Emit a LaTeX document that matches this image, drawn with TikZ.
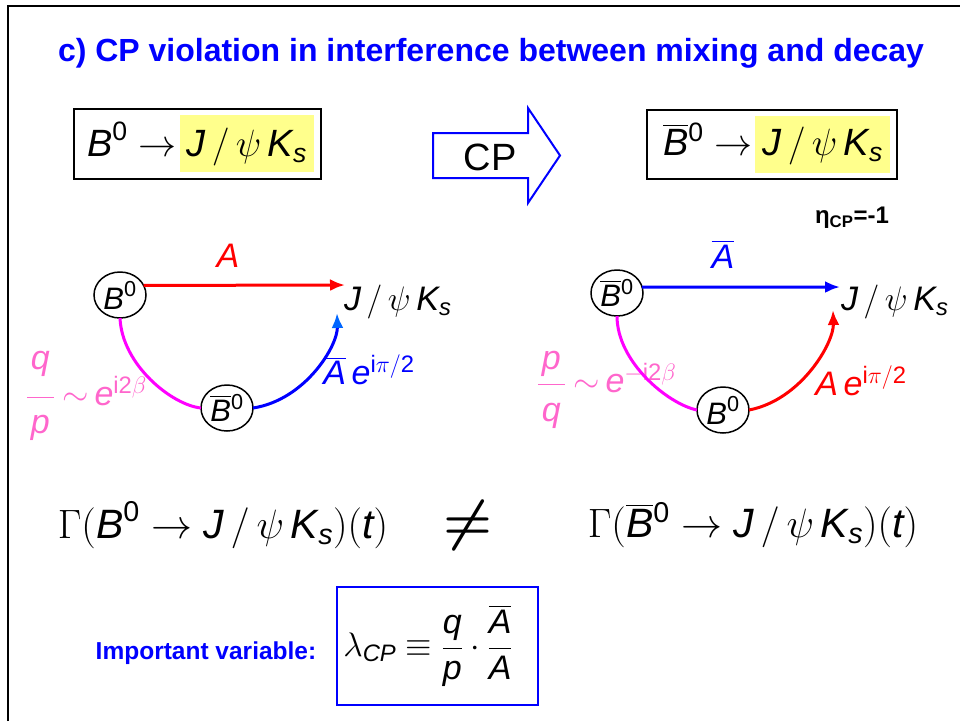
\RequirePackage{fix-cm}
\documentclass[tikz,border=0pt]{standalone}
\usepackage{amsmath}
\usepackage{fontspec}
\setmainfont{Liberation Sans}
\usetikzlibrary{shapes.geometric,arrows.meta}
\definecolor{myblue}{RGB}{0,0,255}
\definecolor{tipblue}{RGB}{0,102,255}
\definecolor{myred}{RGB}{255,0,0}
\definecolor{mymag}{RGB}{255,0,255}
\definecolor{mypink}{RGB}{255,102,204}
\definecolor{hl}{RGB}{255,255,140}
\newcommand{\Bz}{\textit{B}^{\text{0}}}
\newcommand{\Bbz}{\overline{\textit{B}}{}^{\text{0}}}
\newcommand{\Jpsi}{\textit{J}\mkern3mu/\mkern3mu\psi\,\textit{K}_{\textit{s}}}
\newcommand{\Abar}{\overline{\textit{A}}}
\newcommand{\dn}[1]{\rule[-#1]{0pt}{1pt}}
\newcommand{\upr}[1]{\rule{0pt}{#1}}
\newcommand{\tsim}{\mkern4mu{\sim}\mkern3mu}
\begin{document}
\begin{tikzpicture}[x=1pt,y=-1pt,
  every node/.style={inner sep=0pt, outer sep=0pt},
  titlefont/.style={font=\fontsize{32}{36}\selectfont\bfseries, text=myblue},
  eqf/.style={font=\fontsize{38}{42}\selectfont},
  ratef/.style={font=\fontsize{41}{44}\selectfont},
  dgf/.style={font=\fontsize{34}{38}\selectfont},
  bcirc/.style={draw, ellipse, line width=1.5pt, minimum width=52pt, minimum height=46pt, font=\fontsize{31}{34}\selectfont},
  eqframe/.style={draw, line width=1.5pt},
  hlbox/.style={fill=hl},
  arr/.style={line width=3pt, -{Latex[length=15pt,width=12pt]}},
  mixline/.style={line width=3pt, mymag},
]
\useasboundingbox (0,0) rectangle (960,721);
% frame of the slide
\draw[line width=2.5pt] (8,721) -- (8,6) -- (960,6);

% title
\node[titlefont] (title) at (491,53) {c) CP violation in interference between mixing and decay};

% top left box
\node[hlbox, minimum width=134pt, minimum height=57pt] (hl1) at (247,143.5) {};
\node[eqframe, minimum width=247pt, minimum height=70pt] (box1) at (197.5,144) {};
\node[eqf] (f1) at (197,144) {$\Bz \rightarrow \Jpsi$};

% CP arrow
\draw[myblue, line width=2pt] (433,133) -- (528,133) -- (528,108) -- (560,155.5) -- (528,203) -- (528,178) -- (433,178) -- cycle;
\node[eqf] (cp) at (490,157) {CP};

% top right box
\node[hlbox, minimum width=135pt, minimum height=57pt] (hl2) at (822.5,144) {};
\node[eqframe, minimum width=250pt, minimum height=69pt] (box2) at (772,144.5) {};
\node[eqf] (f2) at (773,144) {$\Bbz \rightarrow \Jpsi$};

% eta_CP
\node[font=\fontsize{24}{28}\selectfont\bfseries] (eta) at (852,218) {η\textsubscript{CP}=-1};

% ---------------- left diagram
\node[bcirc] (b1) at (120,295) {$\Bz$};
\node[bcirc] (b2) at (227,408) {$\Bbz$};
\node[dgf, anchor=west] (j1) at (344,302) {$\Jpsi$};
\coordinate (t1) at (345,285);
\coordinate (t2) at (337,313);
\draw[arr, myred] (b1.22) -- (t1);
\node[dgf, text=myred] (la) at (228,256) {\textit{A}};
\draw[mixline] (b1.south) .. controls (122,365) and (172,405) .. (b2.west);
\draw[line width=3pt, myblue, -{Latex[length=15pt,width=12pt,color=tipblue]}] (b2.east) .. controls (305,400) and (338,346) .. (t2);
\node[dgf, text=myblue] (lab1) at (369,370) {$\Abar\,\textit{e}^{\text{i}\pi/\text{2}}$};
\node[dgf, text=mypink, anchor=west] (lq1) at (26,396) {$\dfrac{\dn{24pt}\mkern2mu\textit{q}\mkern2mu}{\upr{33pt}\mkern2mu\textit{p}\mkern2mu}\tsim\textit{e}^{\text{i2}\beta}$};

% ---------------- right diagram
\node[bcirc] (b3) at (617,293) {$\Bbz$};
\node[bcirc] (b4) at (723,410) {$\Bz$};
\node[dgf, anchor=west] (j2) at (841,302) {$\Jpsi$};
\coordinate (t3) at (840,287);
\coordinate (t4) at (833,310);
\draw[arr, myblue] (b3.13) -- (t3);
\node[dgf, text=myblue] (la2) at (723,254) {$\Abar$};
\node[dgf, text=mypink, anchor=west] (lq2) at (537,390) {$\dfrac{\mkern2mu\textit{p}\mkern2mu}{\upr{34pt}\mkern2mu\textit{q}\mkern2mu}\tsim\textit{e}^{-\text{i2}\beta}$};
\draw[mixline] (b3.south) .. controls (617,362) and (668,404) .. (b4.west);
\draw[arr, myred] (b4.east) .. controls (801,400) and (834,343) .. (t4);
\node[dgf, text=myred] (lab2) at (861,381) {$\textit{A}\,\textit{e}^{\text{i}\pi/\text{2}}$};

% ---------------- rates
\node[ratef] (g1) at (223,525) {$\Gamma(\Bz\rightarrow\Jpsi)(\textit{t})$};
\node[font=\fontsize{56}{60}\selectfont] (neq) at (468,525) {$\boldsymbol{\neq}$};
\node[ratef] (g2) at (753,525) {$\Gamma(\Bbz\rightarrow\Jpsi)(\textit{t})$};

% ---------------- important variable
\node[font=\fontsize{24.5}{28}\selectfont\bfseries, text=myblue] (iv) at (206,653) {Important variable:};
\node[draw=myblue, line width=2pt, minimum width=201pt, minimum height=118pt] (lbox) at (437.5,646) {};
\node[font=\fontsize{34}{38}\selectfont] (lam) at (428,646) {$\lambda_{\textit{CP}}\equiv\dfrac{\dn{8pt}\textit{q}}{\upr{24pt}\textit{p}}\cdot\dfrac{\Abar}{\textit{A}}$};
\end{tikzpicture}
\end{document}
